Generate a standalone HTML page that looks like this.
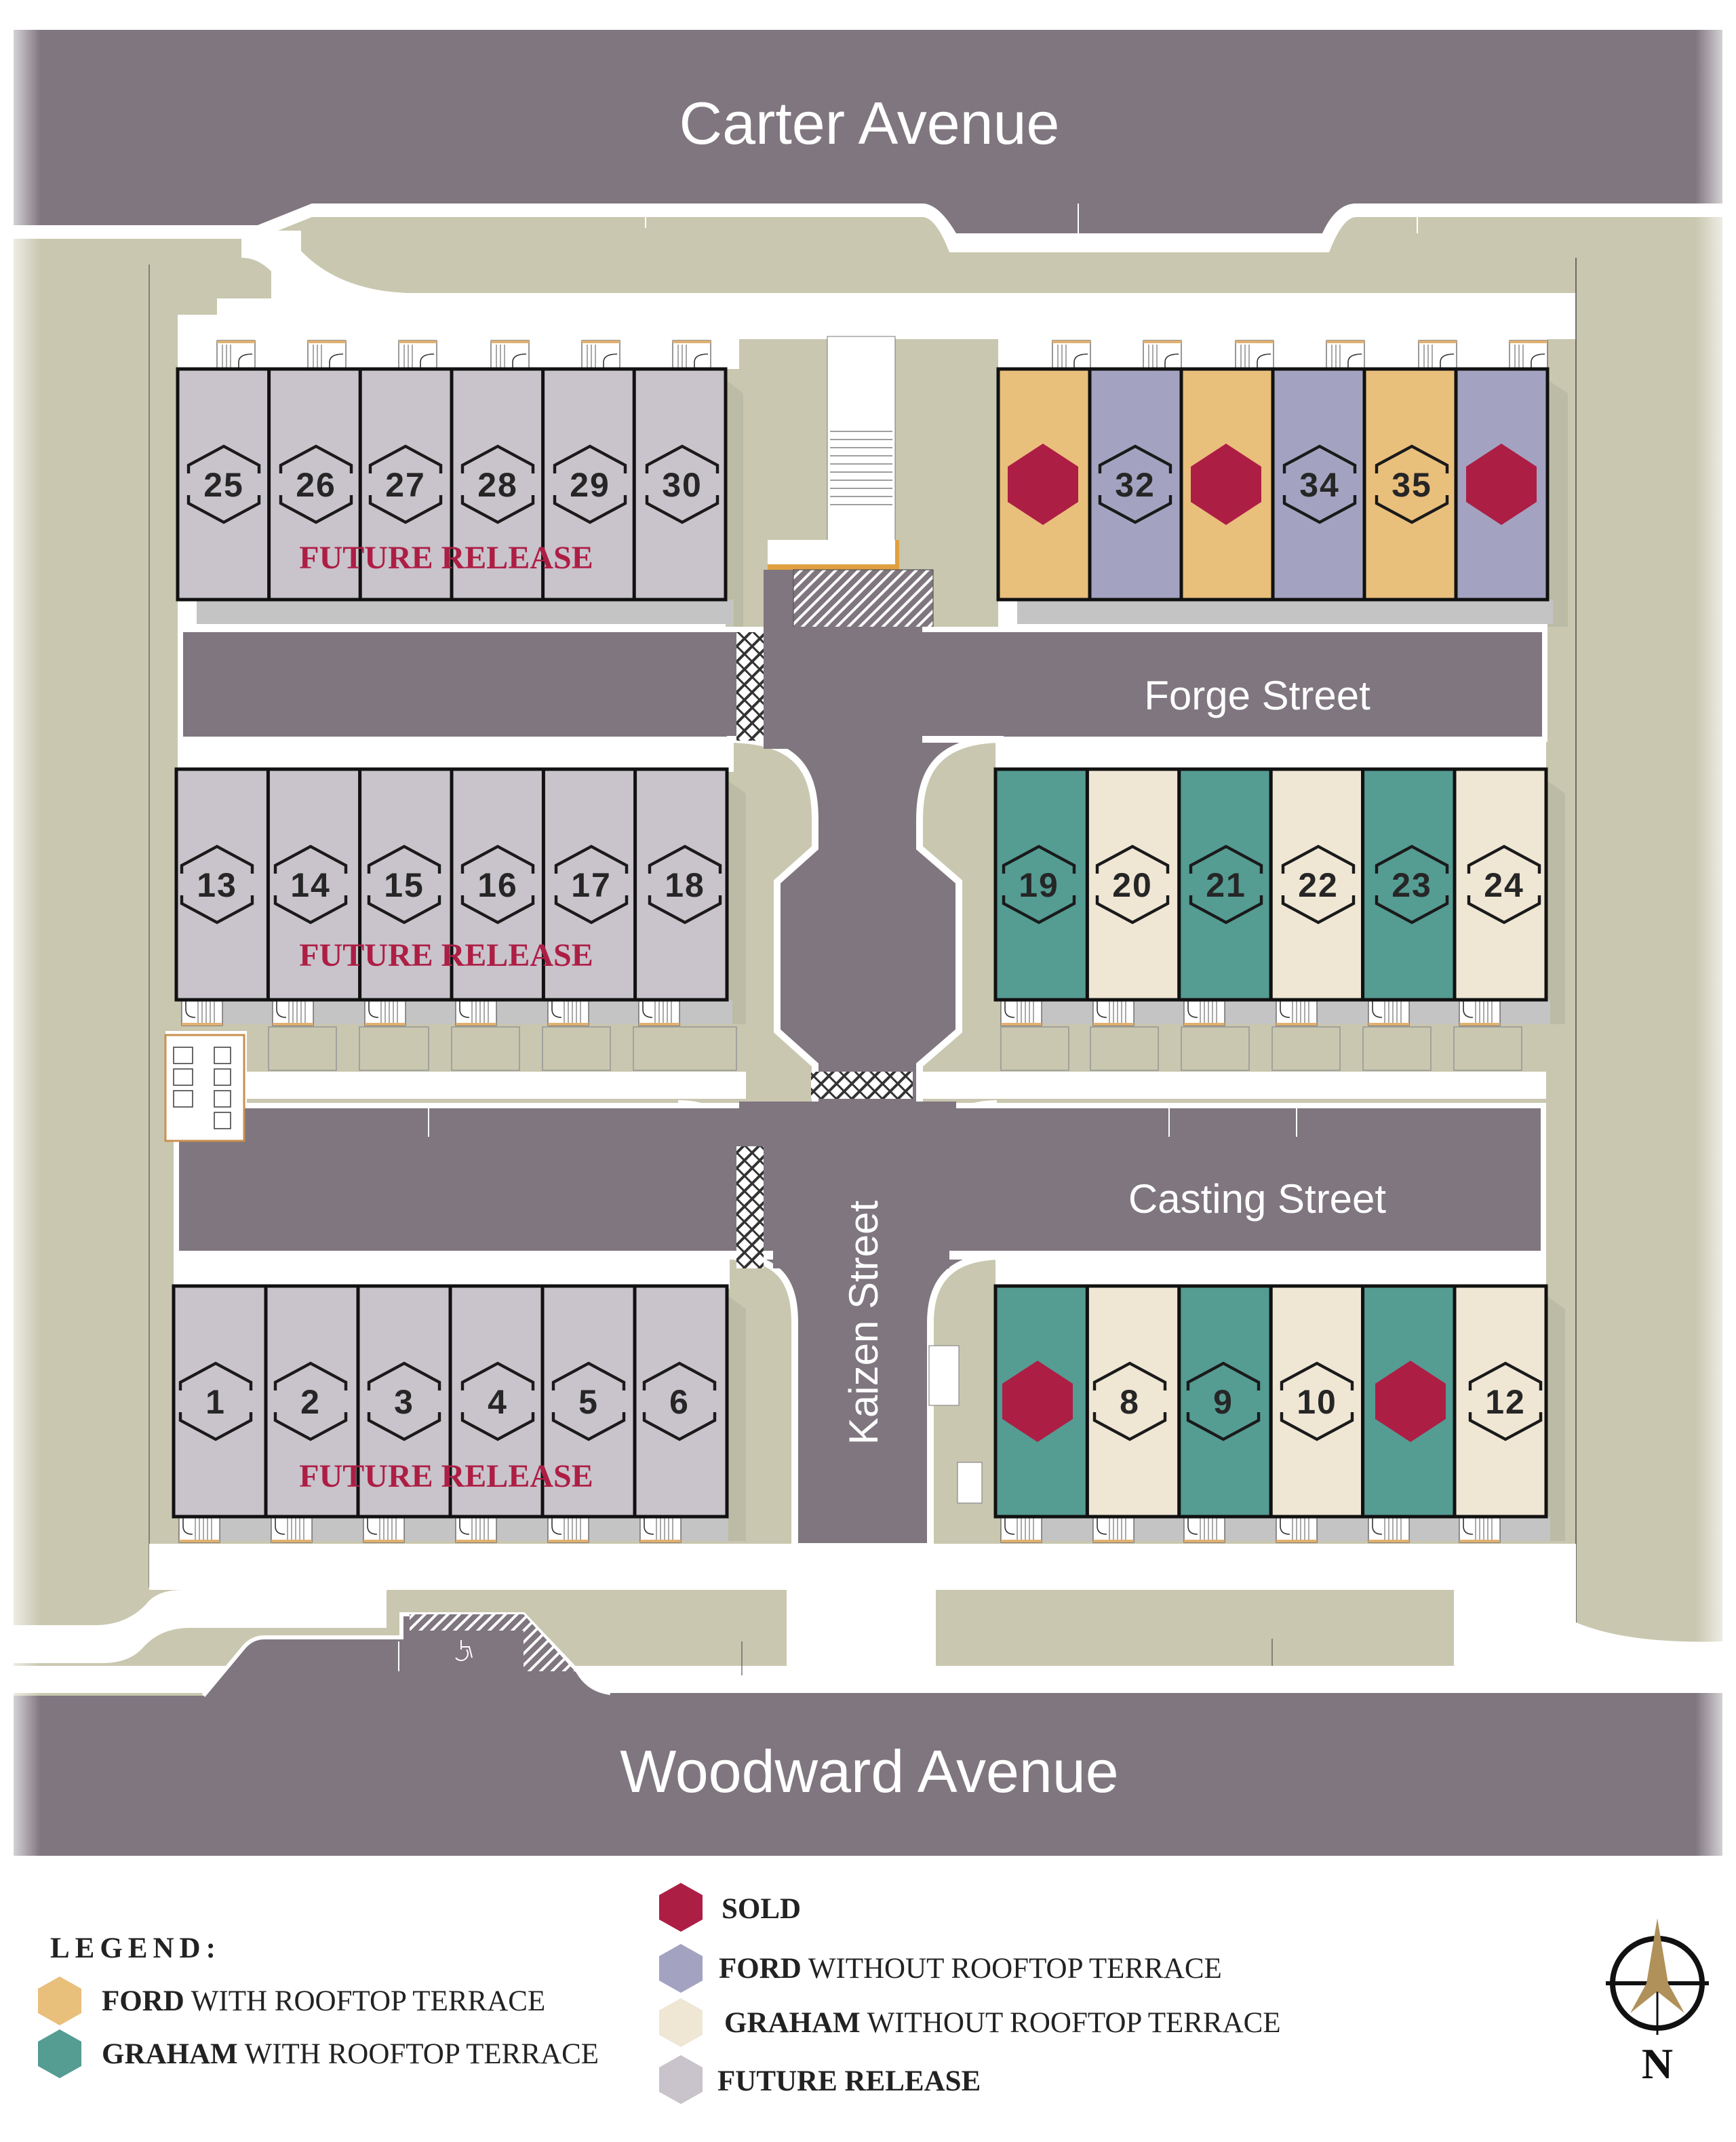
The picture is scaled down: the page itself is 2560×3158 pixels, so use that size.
<!DOCTYPE html>
<html><head><meta charset="utf-8"><style>
html,body{margin:0;padding:0;background:#fff}
svg{display:block}
.n{font-family:"Liberation Sans",sans-serif;font-weight:bold;font-size:25px;fill:#262626;text-anchor:middle;letter-spacing:1px}
.st{font-family:"Liberation Sans",sans-serif;fill:#fff}
.fr{font-family:"Liberation Serif",serif;font-weight:bold;font-size:24px;fill:#ad1e45;text-anchor:middle}
.lg{font-family:"Liberation Serif",serif;font-size:21.5px;fill:#222}
</style></head><body>
<svg width="2560" height="3158" viewBox="0 0 1280 1579" xmlns="http://www.w3.org/2000/svg">
<defs>
<path id="ho" d="M-26,-8 V-14 L0,-28 L26,-14 V-8 M-26,8 V14 L0,28 L26,14 V8" fill="none" stroke="#1a1a1a" stroke-width="2.2"/>
<polygon id="hs" points="0,-30 26,-13 26,13 0,30 -26,13 -26,-13" fill="#ad1e45"/>
<pattern id="hat" width="6" height="6" patternUnits="userSpaceOnUse" patternTransform="rotate(45)"><rect width="6" height="6" fill="#7f767f"/><rect width="2" height="6" fill="#fff"/></pattern>
<pattern id="hb" width="8" height="8" patternUnits="userSpaceOnUse" patternTransform="rotate(45)"><rect width="8" height="8" fill="#fff"/><rect width="2" height="8" fill="#333"/><rect width="8" height="1.5" fill="#333"/></pattern>
<g id="door"><rect x="0" y="0" width="28" height="22" fill="#fff" stroke="#555" stroke-width="0.6"/><rect x="0" y="0" width="28" height="2" fill="#e0b070"/><path d="M4,3 V22 M7,3 V22 M10,3 V22" stroke="#555" stroke-width="0.5"/><path d="M16,22 V16 Q16,10 26,10" fill="none" stroke="#333" stroke-width="0.8"/></g>
<g id="doorb"><rect x="0" y="0" width="30" height="18" fill="#fff" stroke="#555" stroke-width="0.6"/><rect x="0" y="16" width="30" height="2" fill="#e0b070"/><path d="M12,0 V16 M15,0 V16 M18,0 V16 M21,0 V16 M24,0 V16" stroke="#555" stroke-width="0.5"/><path d="M3,0 V6 Q3,12 10,12" fill="none" stroke="#333" stroke-width="0.8"/></g>
<linearGradient id="fl" x1="0" x2="1"><stop offset="0" stop-color="#fff"/><stop offset="1" stop-color="#fff" stop-opacity="0"/></linearGradient>
<linearGradient id="frg" x1="1" x2="0"><stop offset="0" stop-color="#fff"/><stop offset="1" stop-color="#fff" stop-opacity="0"/></linearGradient>
</defs>

<!-- sage ground -->
<rect x="10" y="150" width="1260" height="1100" fill="#c9c7af"/>
<!-- Carter Avenue -->
<path d="M10,22 H1270 V150 H1000 Q985,150 975,172 H705 Q692,150 680,150 H230 L190,166 H10 Z" fill="#7f767f"/>
<path d="M10,166 H190 L230,150 H680 Q692,150 705,172 H975 Q985,150 1000,150 H1270 V160 H1000 Q990,160 980,186 H700 Q690,160 680,160 H230 L190,176 H10 Z" fill="#fff"/>
<line x1="476" y1="150" x2="476" y2="168" stroke="#fff" stroke-width="1"/>
<line x1="795" y1="150" x2="795" y2="172" stroke="#fff" stroke-width="1"/>
<line x1="1045" y1="150" x2="1045" y2="172" stroke="#fff" stroke-width="1"/>
<!-- white paths -->
<path d="M178,170 L222,170 L222,185 Q250,214 300,216 H1162 V250 H545 V272 H131 V235 H160 V220 H200 L200,200 Q190,190 178,190 Z" fill="#fff"/>
<rect x="131" y="232" width="410" height="40" fill="#fff"/>
<rect x="736" y="246" width="405" height="26" fill="#fff"/>
<line x1="1162" y1="190" x2="1162" y2="1200" stroke="#555" stroke-width="0.8"/>
<line x1="110" y1="195" x2="110" y2="1170" stroke="#555" stroke-width="0.6"/>
<!-- staircase & hatch between blocks -->
<rect x="610" y="248" width="50" height="172" fill="#fff" stroke="#777" stroke-width="0.5"/>
<g stroke="#666" stroke-width="0.6"><path d="M612,318 H658 M612,324 H658 M612,330 H658 M612,336 H658 M612,342 H658 M612,348 H658 M612,354 H658 M612,360 H658 M612,366 H658 M612,372 H658"/></g>
<rect x="566" y="398" width="97" height="20" fill="#fff"/>
<path d="M566,420 V416 H660 V398 H663 V420 Z" fill="#e0a040"/>
<rect x="563" y="420" width="22" height="44" fill="#7f767f"/>
<rect x="585" y="420" width="103" height="44" fill="url(#hat)" stroke="#555" stroke-width="0.6"/>

<!-- row strips (white paths) -->
<rect x="131" y="442" width="410" height="22" fill="#fff"/>
<rect x="736" y="442" width="405" height="22" fill="#fff"/>
<rect x="131" y="545" width="410" height="24" fill="#fff"/>
<rect x="734" y="545" width="406" height="24" fill="#fff"/>
<rect x="128" y="925" width="410" height="25" fill="#fff"/>
<rect x="734" y="925" width="406" height="25" fill="#fff"/>
<rect x="180" y="790" width="370" height="20" fill="#fff"/>
<rect x="676" y="790" width="464" height="20" fill="#fff"/>
<rect x="110" y="1138" width="1052" height="34" fill="#fff"/>
<rect x="122" y="760" width="60" height="80" fill="#fff"/>
<!-- Forge Street -->
<rect x="133" y="464" width="1006" height="81" fill="#7f767f" stroke="#fff" stroke-width="4"/>
<!-- Kaizen middle -->
<path d="M536,545 C590,545 601,570 601,605 L601,625 L573,650 L573,760 L601,785 L601,815 L678,815 L678,785 L707,760 L707,650 L678,625 L678,605 C678,570 690,545 740,545 Z" fill="#7f767f" stroke="#fff" stroke-width="5"/>
<rect x="563" y="462" width="117" height="90" fill="#7f767f"/>
<!-- Casting Street -->
<path d="M500,813 Q530,813 545,835 M735,813 Q705,813 690,835" fill="none" stroke="#fff" stroke-width="4"/>
<rect x="130" y="815" width="1008" height="109" fill="#7f767f" stroke="#fff" stroke-width="4"/>
<rect x="545" y="812" width="160" height="40" fill="#7f767f"/>
<line x1="316" y1="817" x2="316" y2="838" stroke="#fff" stroke-width="1"/>
<line x1="862" y1="817" x2="862" y2="838" stroke="#fff" stroke-width="1"/>
<line x1="956" y1="817" x2="956" y2="838" stroke="#fff" stroke-width="1"/>
<!-- Kaizen lower -->
<path d="M536,926 C575,926 586,945 586,975 V1140 H686 V975 C686,945 700,926 740,926 Z" fill="#7f767f" stroke="#fff" stroke-width="5"/>
<rect x="570" y="905" width="130" height="30" fill="#7f767f"/>
<!-- crosswalks -->
<rect x="543" y="466" width="20" height="80" fill="url(#hb)"/>
<rect x="543" y="845" width="20" height="90" fill="url(#hb)"/>
<rect x="598" y="790" width="75" height="20" fill="url(#hb)"/>

<!-- parking boxes -->
<g fill="#c9c7af" stroke="#999" stroke-width="0.8">
<rect x="198" y="757" width="50" height="32"/><rect x="265" y="757" width="51" height="32"/><rect x="333" y="757" width="50" height="32"/><rect x="400" y="757" width="50" height="32"/><rect x="467" y="757" width="76" height="32"/>
<rect x="738" y="757" width="50" height="32"/><rect x="804" y="757" width="50" height="32"/><rect x="871" y="757" width="50" height="32"/><rect x="938" y="757" width="50" height="32"/><rect x="1005" y="757" width="50" height="32"/><rect x="1072" y="757" width="50" height="32"/>
</g>
<!-- small building left -->
<rect x="122" y="763" width="58" height="78" fill="#fff" stroke="#c89050" stroke-width="1.5"/>
<g fill="none" stroke="#444" stroke-width="0.8"><rect x="128" y="772" width="14" height="12"/><rect x="128" y="788" width="14" height="12"/><rect x="128" y="804" width="14" height="12"/><rect x="158" y="772" width="12" height="12"/><rect x="158" y="788" width="12" height="12"/><rect x="158" y="804" width="12" height="12"/><rect x="158" y="820" width="12" height="12"/></g>
<rect x="685" y="992" width="22" height="44" fill="#fff" stroke="#888" stroke-width="0.6"/>
<rect x="706" y="1078" width="18" height="30" fill="#fff" stroke="#888" stroke-width="0.6"/>

<!-- shadows -->
<g fill="#b8b8a4" opacity="0.8">
<path d="M535,280 L548,290 V462 H535 Z"/><path d="M1141,280 L1156,290 V462 H1141 Z"/>
<path d="M536,575 L550,585 V755 H536 Z"/><path d="M1140,575 L1154,585 V755 H1140 Z"/>
<path d="M536,955 L550,965 V1136 H536 Z"/><path d="M1140,955 L1154,965 V1136 H1140 Z"/>
</g>
<g fill="#c4c4c4">
<rect x="145" y="442" width="395" height="18"/><rect x="750" y="442" width="395" height="18"/>
<rect x="145" y="737" width="395" height="18"/><rect x="748" y="737" width="395" height="18"/>
<rect x="142" y="1118" width="395" height="18"/><rect x="748" y="1118" width="395" height="18"/>
</g>
<!-- doors -->
<g>
<use href="#door" x="160" y="251"/><use href="#door" x="227" y="251"/><use href="#door" x="294" y="251"/><use href="#door" x="362" y="251"/><use href="#door" x="429" y="251"/><use href="#door" x="496" y="251"/>
<use href="#door" x="776" y="251"/><use href="#door" x="843" y="251"/><use href="#door" x="911" y="251"/><use href="#door" x="978" y="251"/><use href="#door" x="1046" y="251"/><use href="#door" x="1113" y="251"/>
</g>
<g>
<use href="#doorb" x="134" y="738"/><use href="#doorb" x="201" y="738"/><use href="#doorb" x="269" y="738"/><use href="#doorb" x="336" y="738"/><use href="#doorb" x="404" y="738"/><use href="#doorb" x="471" y="738"/>
<use href="#doorb" x="738" y="738"/><use href="#doorb" x="806" y="738"/><use href="#doorb" x="873" y="738"/><use href="#doorb" x="941" y="738"/><use href="#doorb" x="1009" y="738"/><use href="#doorb" x="1076" y="738"/>
<use href="#doorb" x="132" y="1119"/><use href="#doorb" x="200" y="1119"/><use href="#doorb" x="268" y="1119"/><use href="#doorb" x="336" y="1119"/><use href="#doorb" x="404" y="1119"/><use href="#doorb" x="472" y="1119"/>
<use href="#doorb" x="738" y="1119"/><use href="#doorb" x="806" y="1119"/><use href="#doorb" x="873" y="1119"/><use href="#doorb" x="941" y="1119"/><use href="#doorb" x="1009" y="1119"/><use href="#doorb" x="1076" y="1119"/>
</g>

<!-- UNITS -->
<g stroke="#111" stroke-width="2.5">
<rect x="131" y="272" width="404" height="170" fill="#c9c3cb"/>
<path d="M198.3,272V442M265.6,272V442M333,272V442M400.3,272V442M467.6,272V442"/>
<rect x="736" y="272" width="67.5" height="170" fill="#e9bf7c"/><rect x="803.5" y="272" width="67.5" height="170" fill="#a3a3c1"/><rect x="871" y="272" width="67.5" height="170" fill="#e9bf7c"/><rect x="938.5" y="272" width="67.5" height="170" fill="#a3a3c1"/><rect x="1006" y="272" width="67.5" height="170" fill="#e9bf7c"/><rect x="1073.5" y="272" width="67.5" height="170" fill="#a3a3c1"/>
<rect x="130" y="567" width="406" height="170" fill="#c9c3cb"/>
<path d="M197.7,567V737M265.3,567V737M333,567V737M400.7,567V737M468.3,567V737"/>
<rect x="734" y="567" width="67.7" height="170" fill="#559c93"/><rect x="801.7" y="567" width="67.7" height="170" fill="#efe6d4"/><rect x="869.4" y="567" width="67.7" height="170" fill="#559c93"/><rect x="937.1" y="567" width="67.7" height="170" fill="#efe6d4"/><rect x="1004.8" y="567" width="67.7" height="170" fill="#559c93"/><rect x="1072.5" y="567" width="67.5" height="170" fill="#efe6d4"/>
<rect x="128" y="948" width="408" height="170" fill="#c9c3cb"/>
<path d="M196,948V1118M264,948V1118M332,948V1118M400,948V1118M468,948V1118"/>
<rect x="734" y="948" width="67.7" height="170" fill="#559c93"/><rect x="801.7" y="948" width="67.7" height="170" fill="#efe6d4"/><rect x="869.4" y="948" width="67.7" height="170" fill="#559c93"/><rect x="937.1" y="948" width="67.7" height="170" fill="#efe6d4"/><rect x="1004.8" y="948" width="67.7" height="170" fill="#559c93"/><rect x="1072.5" y="948" width="67.5" height="170" fill="#efe6d4"/>
</g>

<!-- hexes -->
<use href="#ho" x="165" y="357"/><use href="#ho" x="233" y="357"/><use href="#ho" x="299" y="357"/><use href="#ho" x="367" y="357"/><use href="#ho" x="435" y="357"/><use href="#ho" x="503" y="357"/>
<use href="#hs" x="769" y="357"/><use href="#ho" x="837" y="357"/><use href="#hs" x="904" y="357"/><use href="#ho" x="973" y="357"/><use href="#ho" x="1041" y="357"/><use href="#hs" x="1107" y="357"/>
<use href="#ho" x="160" y="652"/><use href="#ho" x="229" y="652"/><use href="#ho" x="298" y="652"/><use href="#ho" x="367" y="652"/><use href="#ho" x="436" y="652"/><use href="#ho" x="505" y="652"/>
<use href="#ho" x="766" y="652"/><use href="#ho" x="835" y="652"/><use href="#ho" x="904" y="652"/><use href="#ho" x="972" y="652"/><use href="#ho" x="1041" y="652"/><use href="#ho" x="1109" y="652"/>
<use href="#ho" x="159" y="1033"/><use href="#ho" x="229" y="1033"/><use href="#ho" x="298" y="1033"/><use href="#ho" x="367" y="1033"/><use href="#ho" x="434" y="1033"/><use href="#ho" x="501" y="1033"/>
<use href="#hs" x="765" y="1033"/><use href="#ho" x="833" y="1033"/><use href="#ho" x="902" y="1033"/><use href="#ho" x="971" y="1033"/><use href="#hs" x="1040" y="1033"/><use href="#ho" x="1110" y="1033"/>

<g class="n">
<text x="165" y="366">25</text><text x="233" y="366">26</text><text x="299" y="366">27</text><text x="367" y="366">28</text><text x="435" y="366">29</text><text x="503" y="366">30</text>
<text x="837" y="366">32</text><text x="973" y="366">34</text><text x="1041" y="366">35</text>
<text x="160" y="661">13</text><text x="229" y="661">14</text><text x="298" y="661">15</text><text x="367" y="661">16</text><text x="436" y="661">17</text><text x="505" y="661">18</text>
<text x="766" y="661">19</text><text x="835" y="661">20</text><text x="904" y="661">21</text><text x="972" y="661">22</text><text x="1041" y="661">23</text><text x="1109" y="661">24</text>
<text x="159" y="1042">1</text><text x="229" y="1042">2</text><text x="298" y="1042">3</text><text x="367" y="1042">4</text><text x="434" y="1042">5</text><text x="501" y="1042">6</text>
<text x="833" y="1042">8</text><text x="902" y="1042">9</text><text x="971" y="1042">10</text><text x="1110" y="1042">12</text>
</g>
<text class="fr" x="329" y="419">FUTURE RELEASE</text>
<text class="fr" x="329" y="712">FUTURE RELEASE</text>
<text class="fr" x="329" y="1096">FUTURE RELEASE</text>

<!-- bottom area -->
<rect x="580" y="1165" width="110" height="80" fill="#fff"/>
<rect x="245" y="1165" width="40" height="35" fill="#fff"/>
<path d="M10,1198 H70 Q95,1198 110,1180 Q118,1172 135,1172 H245 V1200 H140 Q118,1200 105,1215 Q95,1226 75,1226 H10 Z" fill="#fff"/>
<path d="M1072,1168 H1162 V1196 Q1200,1212 1270,1210 V1240 H1072 Z" fill="#fff"/>
<path d="M390,1172 H580 V1232 H428 Z" fill="#c9c7af"/>
<path d="M10,1228 H1270 V1248 H10 Z" fill="#fff"/>
<path d="M150,1250 L180,1214 Q186,1207 195,1207 H296 V1190 H386 L426,1232 Q434,1246 450,1248 H1270 V1368 H10 V1250 Z" fill="#7f767f"/>
<path d="M150,1250 L180,1214 Q186,1207 195,1207 H296 V1190 H386 L426,1232 Q434,1246 450,1248" fill="none" stroke="#fff" stroke-width="3"/>
<path d="M302,1190 H386 L424,1232 H386 V1202 H302 Z" fill="url(#hat)"/>
<path d="M336,1222 a5,5 0 1 0 8,-6 M340,1216 V1209 M340,1214 H346 L348,1222" fill="none" stroke="#fff" stroke-width="1"/>
<line x1="294" y1="1210" x2="294" y2="1232" stroke="#fff" stroke-width="1"/>
<line x1="547" y1="1210" x2="547" y2="1235" stroke="#555" stroke-width="0.6"/>
<line x1="938" y1="1208" x2="938" y2="1228" stroke="#555" stroke-width="0.6"/>
<!-- edge fades -->
<rect x="0" y="22" width="30" height="1346" fill="url(#fl)"/>
<rect x="1250" y="22" width="30" height="1346" fill="url(#frg)"/>

<!-- street names -->
<text class="st" x="641" y="106" font-size="44" text-anchor="middle">Carter Avenue</text>
<text class="st" x="927" y="523" font-size="30" text-anchor="middle">Forge Street</text>
<text class="st" x="927" y="894" font-size="30" text-anchor="middle">Casting Street</text>
<text class="st" x="0" y="0" font-size="30" text-anchor="middle" transform="translate(647,975) rotate(-90)">Kaizen Street</text>
<text class="st" x="641" y="1321" font-size="44" text-anchor="middle">Woodward Avenue</text>

<!-- legend -->
<text class="lg" x="37" y="1443" font-weight="bold" font-size="23" letter-spacing="4">LEGEND:</text>
<polygon points="44,1457 60,1466 60,1484 44,1493 28,1484 28,1466" fill="#e9bf7c"/>
<text class="lg" x="75" y="1482"><tspan font-weight="bold">FORD</tspan> WITH ROOFTOP TERRACE</text>
<polygon points="44,1496 60,1505 60,1523 44,1532 28,1523 28,1505" fill="#559c93"/>
<text class="lg" x="75" y="1521"><tspan font-weight="bold">GRAHAM</tspan> WITH ROOFTOP TERRACE</text>
<polygon points="502,1388 518,1397 518,1415 502,1424 486,1415 486,1397" fill="#ad1e45"/>
<text class="lg" x="532" y="1414" font-weight="bold">SOLD</text>
<polygon points="502,1433 518,1442 518,1460 502,1469 486,1460 486,1442" fill="#a3a3c1"/>
<text class="lg" x="530" y="1458"><tspan font-weight="bold">FORD</tspan> WITHOUT ROOFTOP TERRACE</text>
<polygon points="502,1473 518,1482 518,1500 502,1509 486,1500 486,1482" fill="#efe6d4"/>
<text class="lg" x="534" y="1498"><tspan font-weight="bold">GRAHAM</tspan> WITHOUT ROOFTOP TERRACE</text>
<polygon points="502,1515 518,1524 518,1542 502,1551 486,1542 486,1524" fill="#c9c3cb"/>
<text class="lg" x="529" y="1541" font-weight="bold">FUTURE RELEASE</text>
<!-- compass -->
<circle cx="1222" cy="1462" r="33" fill="none" stroke="#111" stroke-width="4"/>
<line x1="1184" y1="1462" x2="1260" y2="1462" stroke="#111" stroke-width="3"/>
<line x1="1222" y1="1425" x2="1222" y2="1500" stroke="#111" stroke-width="1.5"/>
<polygon points="1222,1414 1230,1462 1242,1484 1222,1468 1202,1484 1214,1462" fill="#b0915a"/>
<text x="1222" y="1532" font-family="Liberation Serif,serif" font-weight="bold" font-size="32" fill="#111" text-anchor="middle">N</text>
</svg>
</body></html>
